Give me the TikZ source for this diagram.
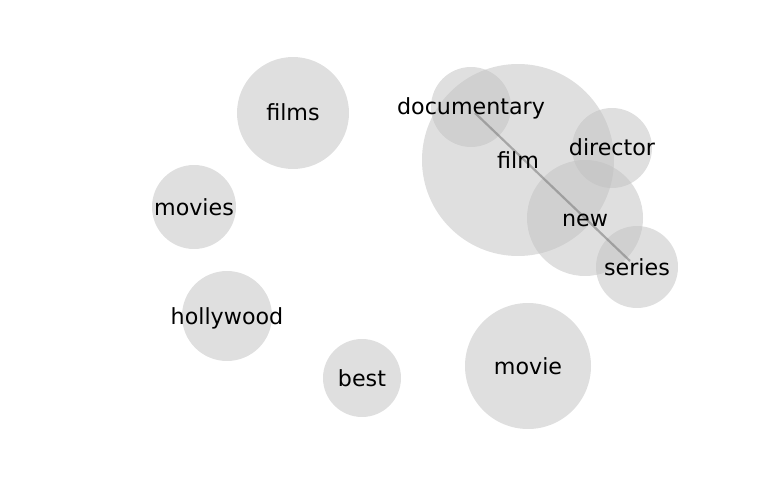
\documentclass[tikz,border=0pt]{standalone}
\usepackage{fontspec}
\setmainfont{DejaVu Sans}
\definecolor{bub}{RGB}{192,192,192}
\definecolor{lnk}{RGB}{120,120,120}
\begin{document}
\begin{tikzpicture}[x=1pt,y=-1pt,
  bubble/.style={circle,fill=bub,fill opacity=0.5,draw=none,inner sep=0pt,minimum size=#1},
  lab/.style={font=\fontsize{22.2}{26}\selectfont,text=black,inner sep=0pt,text height=16pt,text depth=0pt},
  link/.style={draw=lnk,line width=2.2pt,opacity=0.55}]
\useasboundingbox (0,0) rectangle (768,500);
\node[bubble=112pt] (films) at (293,113) {};
\node[bubble=84pt] (movies) at (194,207) {};
\node[bubble=90pt] (hollywood) at (227,316) {};
\node[bubble=78pt] (best) at (362,378) {};
\node[bubble=126pt] (movie) at (528,366) {};
\node[bubble=192pt] (film) at (518,160) {};
\node[bubble=80pt] (documentary) at (471,107) {};
\node[bubble=80pt] (director) at (612,148) {};
\node[bubble=116pt] (new) at (585,218) {};
\node[bubble=82pt] (series) at (637,267) {};
\coordinate (la) at (475,113);
\coordinate (lb) at (630,261);
\draw[link] (la) -- (lb);
\node[lab] at (films) {films};
\node[lab] at (movies) {movies};
\node[lab] at (hollywood) {hollywood};
\node[lab] at (best) {best};
\node[lab] at (movie) {movie};
\node[lab] at (film) {film};
\node[lab] at (documentary) {documentary};
\node[lab] at (director) {director};
\node[lab] at (new) {new};
\node[lab] at (series) {series};
\end{tikzpicture}
\end{document}
